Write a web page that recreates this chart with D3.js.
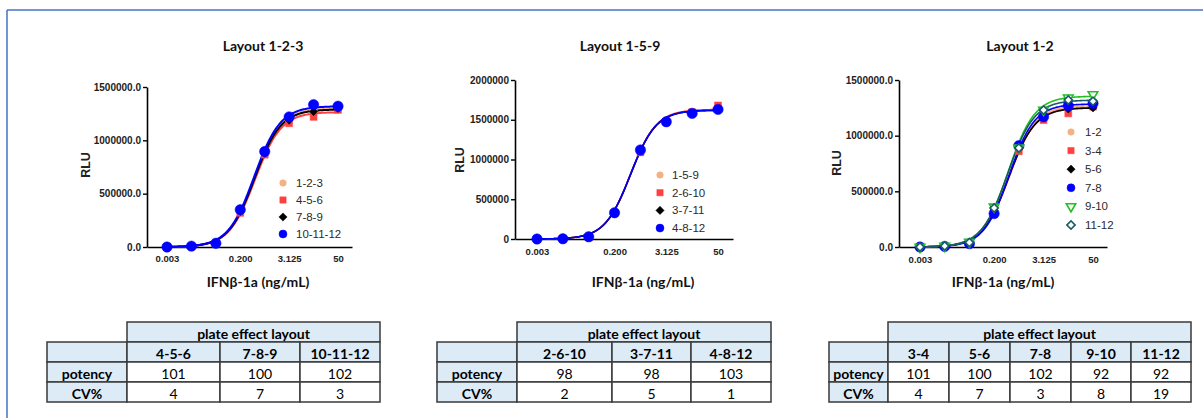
<!DOCTYPE html>
<html>
<head>
<meta charset="utf-8">
<script src="https://cdn.jsdelivr.net/npm/d3@7"></script>
<style>
  html, body { margin: 0; padding: 0; background: #fff; }
  svg { display: block; }
</style>
</head>
<body>
<script>
// ---------------- DATA ----------------
const conc = [0.00305, 0.0122, 0.0488, 0.195, 0.781, 3.125, 12.5, 50];
const xTickValues = [0.00305, 0.195, 3.125, 50];
const xTickLabels = ["0.003", "0.200", "3.125", "50"];

// Panel 1: Layout 1-2-3
const p1Names = ["1-2-3", "4-5-6", "7-8-9", "10-11-12"];
const p1_123 = [0, 4000, 28000, 330000, 880000, 1190000, 1280000, 1310000];
const p1_456 = [0, 5000, 30000, 320000, 865000, 1160000, 1220000, 1285000];
const p1_789 = [0, 5000, 30000, 335000, 880000, 1190000, 1270000, 1300000];
const p1_101112 = [0, 8000, 35000, 350000, 895000, 1220000, 1335000, 1320000];
// 4PL fit parameters [bottom, top, EC50, hill]
const p1Fits = [[0, 1300000, 0.44, 1.35], [0, 1265000, 0.45, 1.35], [0, 1290000, 0.44, 1.35], [0, 1320000, 0.43, 1.35]];
const p1YTicks = [0, 500000, 1000000, 1500000];

// Panel 2: Layout 1-5-9
const p2Names = ["1-5-9", "2-6-10", "3-7-11", "4-8-12"];
const p2_159 = [0, 2000, 25000, 320000, 1110000, 1480000, 1600000, 1640000];
const p2_2610 = [0, 2000, 20000, 330000, 1090000, 1470000, 1595000, 1680000];
const p2_3711 = [0, 2000, 25000, 325000, 1110000, 1475000, 1580000, 1630000];
const p2_4812 = [0, 3000, 28000, 330000, 1120000, 1475000, 1580000, 1630000];
const p2Fits = [[0, 1625000, 0.46, 1.45], [0, 1630000, 0.46, 1.45], [0, 1620000, 0.46, 1.45], [0, 1620000, 0.455, 1.45]];
const p2YTicks = [0, 500000, 1000000, 1500000, 2000000];

// Panel 3: Layout 1-2
const p3Names = ["1-2", "3-4", "5-6", "7-8", "9-10", "11-12"];
const p3_12 = [0, 5000, 40000, 330000, 880000, 1170000, 1250000, 1270000];
const p3_34 = [0, 5000, 35000, 320000, 860000, 1140000, 1200000, 1260000];
const p3_56 = [0, 5000, 35000, 330000, 880000, 1180000, 1240000, 1250000];
const p3_78 = [0, 5000, 30000, 300000, 910000, 1170000, 1270000, 1290000];
const p3_910 = [0, 8000, 45000, 360000, 890000, 1230000, 1340000, 1370000];
const p3_1112 = [0, 8000, 40000, 350000, 890000, 1230000, 1320000, 1310000];
const p3Fits = [[0, 1270000, 0.44, 1.35], [0, 1255000, 0.45, 1.35], [0, 1250000, 0.44, 1.35], [0, 1285000, 0.45, 1.4], [0, 1355000, 0.43, 1.35], [0, 1320000, 0.42, 1.35]];
const p3YTicks = [0, 500000, 1000000, 1500000];

// Tables
const tableTitle = "plate effect layout";
const rowLabels = ["potency", "CV%"];
const t1Cols = ["4-5-6", "7-8-9", "10-11-12"];
const t1Potency = [101, 100, 102];
const t1CV = [4, 7, 3];
const t2Cols = ["2-6-10", "3-7-11", "4-8-12"];
const t2Potency = [98, 98, 103];
const t2CV = [2, 5, 1];
const t3Cols = ["3-4", "5-6", "7-8", "9-10", "11-12"];
const t3Potency = [101, 100, 102, 92, 92];
const t3CV = [4, 7, 3, 8, 19];

// ---------------- STYLES ----------------
const styles = [
  {color: "#F4B183", shape: "circle", size: 42, lsize: 34, fill: true},
  {color: "#FF4040", shape: "square", size: 48, lsize: 40, fill: true},
  {color: "#000000", shape: "diamond", size: 34, lsize: 34, fill: true},
  {color: "#0000FF", shape: "circle", size: 85, lsize: 50, fill: true},
  {color: "#1FC01F", shape: "triangleDown", size: 40, lsize: 38, fill: false},
  {color: "#1A5A66", shape: "diamond", size: 34, lsize: 34, fill: false}
];

const W = 1203, H = 418;
const svg = d3.select("body").append("svg").attr("width", W).attr("height", H)
  .style("font-family", "'Liberation Sans', Arial, sans-serif");

// frame
svg.append("line").attr("x1", 7).attr("x2", W).attr("y1", 10).attr("y2", 10)
  .attr("stroke", "#4472C4").attr("stroke-width", 1.5);
svg.append("line").attr("x1", 7).attr("x2", 7).attr("y1", 10).attr("y2", H)
  .attr("stroke", "#4472C4").attr("stroke-width", 1.5);

function symbolPath(shape, size) {
  let t;
  if (shape === "circle") t = d3.symbolCircle;
  else if (shape === "square" || shape === "diamond") t = d3.symbolSquare;
  else t = d3.symbolTriangle;
  return d3.symbol().type(t).size(size)();
}
function symbolTransform(shape, x, y) {
  let r = 0;
  if (shape === "diamond") r = 45;
  if (shape === "triangleDown") r = 180;
  return `translate(${x},${y}) rotate(${r})`;
}

function drawPanel(cfg) {
  const g = svg.append("g");
  const xs0 = d3.scaleLog().domain([conc[0], conc[conc.length - 1]]).range([cfg.firstPt, cfg.lastPt]);
  const x = d3.scaleLog().domain([xs0.invert(cfg.x0), xs0.invert(cfg.x1)]).range([cfg.x0, cfg.x1]);
  const y = d3.scaleLinear().domain([0, cfg.yTicks[cfg.yTicks.length - 1]]).range([cfg.yBot, cfg.yTop]);

  // title
  g.append("text").attr("x", cfg.titleX).attr("y", 51).attr("text-anchor", "middle")
    .style("font-family", "Lato, 'Open Sans', sans-serif").style("font-weight", "bold")
    .style("font-size", "14px").attr("fill", "#111").text(cfg.title);

  // y axis
  const ya = g.append("g").attr("transform", `translate(${cfg.x0},0)`)
    .call(d3.axisLeft(y).tickValues(cfg.yTicks).tickFormat(d3.format(cfg.yFmt))
      .tickSizeOuter(0).tickSizeInner(4).tickPadding(2));
  ya.select(".domain").attr("stroke", "#000").attr("stroke-width", 1.6);
  ya.selectAll(".tick line").attr("stroke", "#000").attr("stroke-width", 1.4);
  ya.selectAll("text").style("font-family", "'Liberation Sans', Arial, sans-serif")
    .style("font-weight", "bold").style("font-size", cfg.yTickFont).attr("fill", "#222");

  // x axis
  const xa = g.append("g").attr("transform", `translate(0,${cfg.yBot})`)
    .call(d3.axisBottom(x).tickValues(xTickValues).tickFormat((d, i) => xTickLabels[i])
      .tickSizeOuter(0).tickSizeInner(0).tickPadding(cfg.xPad));
  xa.select(".domain").attr("stroke", "#000").attr("stroke-width", 1.6);
  xa.selectAll("text").style("font-family", "'Liberation Sans', Arial, sans-serif")
    .style("font-weight", "bold").style("font-size", "9.5px").attr("fill", "#222");

  // axis titles
  g.append("text").attr("transform", `translate(${cfg.yTitleX},${cfg.yTitleY}) rotate(-90)`)
    .attr("text-anchor", "middle").attr("dy", "0.35em")
    .style("font-weight", "bold").style("font-size", "12.5px").attr("fill", "#222").text("RLU");
  g.append("text").attr("x", cfg.xTitleX).attr("y", 287).attr("text-anchor", "middle")
    .style("font-family", "Lato, 'Open Sans', sans-serif").style("font-weight", "bold")
    .style("font-size", "14px").attr("fill", "#111").text("IFNβ-1a (ng/mL)");

  // fitted curves (4PL)
  const xs = d3.range(0, 201).map(i => Math.exp(Math.log(x.domain()[0]) + i / 200 * (Math.log(cfg.curveEnd) - Math.log(x.domain()[0]))));
  const line = d3.line().x(d => x(d[0])).y(d => y(d[1])).curve(d3.curveLinear);
  cfg.series.forEach((vals, si) => {
    const f = cfg.fits[si];
    const st = styles[si];
    const pts = xs.map(c => [c, f[0] + (f[1] - f[0]) / (1 + Math.pow(f[2] / c, f[3]))]);
    g.append("path").datum(pts.filter(p => x(p[0]) >= cfg.firstPt - 1))
      .attr("d", line).attr("fill", "none").attr("stroke", st.color)
      .attr("stroke-width", cfg.lineW);
  });
  // points
  cfg.series.forEach((vals, si) => {
    const st = styles[si];
    g.append("g").selectAll("path").data(vals).join("path")
      .attr("d", symbolPath(st.shape, st.size))
      .attr("transform", (d, i) => symbolTransform(st.shape, x(conc[i]), y(d)))
      .attr("fill", st.fill ? st.color : "#fff")
      .attr("stroke", st.color).attr("stroke-width", st.fill ? 0.5 : 1.6);
  });

  // legend
  const lg = g.append("g");
  cfg.names.forEach((n, i) => {
    const st = styles[i];
    const yy = cfg.legY0 + i * cfg.legDy;
    lg.append("path").attr("d", symbolPath(st.shape, st.lsize))
      .attr("transform", symbolTransform(st.shape, cfg.legMX, yy))
      .attr("fill", st.fill ? st.color : "#fff").attr("stroke", st.color)
      .attr("stroke-width", st.fill ? 0.5 : 1.6);
    lg.append("text").attr("x", cfg.legTX).attr("y", yy).attr("dy", "0.35em")
      .style("font-size", "11.5px").attr("fill", "#2a2a2a").text(n);
  });
}

drawPanel({
  title: "Layout 1-2-3", titleX: 263, x0: 147, x1: 352, yBot: 247, yTop: 87,
  firstPt: 167, lastPt: 338, curveEnd: 50, yTicks: p1YTicks, yFmt: ".1f", yTickFont: "10px", xPad: 8,
  yTitleX: 86, yTitleY: 165, xTitleX: 258, lineW: 2,
  series: [p1_123, p1_456, p1_789, p1_101112], fits: p1Fits, names: p1Names,
  legMX: 283, legTX: 296, legY0: 183, legDy: 17
});
drawPanel({
  title: "Layout 1-5-9", titleX: 620, x0: 515, x1: 733, yBot: 239, yTop: 80,
  firstPt: 537, lastPt: 718, curveEnd: 50, yTicks: p2YTicks, yFmt: "d", yTickFont: "10px", xPad: 9,
  yTitleX: 460, yTitleY: 160, xTitleX: 643, lineW: 1.6,
  series: [p2_159, p2_2610, p2_3711, p2_4812], fits: p2Fits, names: p2Names,
  legMX: 660, legTX: 672, legY0: 175, legDy: 17.7
});
drawPanel({
  title: "Layout 1-2", titleX: 1020, x0: 899, x1: 1107, yBot: 247, yTop: 80,
  firstPt: 920, lastPt: 1093, curveEnd: 50, yTicks: p3YTicks, yFmt: ".1f", yTickFont: "10px", xPad: 9,
  yTitleX: 837, yTitleY: 163, xTitleX: 1003, lineW: 1.6,
  series: [p3_12, p3_34, p3_56, p3_78, p3_910, p3_1112], fits: p3Fits, names: p3Names,
  legMX: 1071, legTX: 1085, legY0: 132, legDy: 18.6
});

// ---------------- TABLES ----------------
function drawTable(cfg) {
  const g = svg.append("g").style("font-family", "Lato, 'Open Sans', sans-serif");
  const rows = cfg.rows;
  const cx = cfg.cols;
  const fillBlue = "#DDEBF7", stroke = "#3a3a3a";
  const n = cx.length - 1;
  const cells = [];
  cells.push({x: cx[0], y: rows[0], w: cx[n] - cx[0], h: rows[1] - rows[0], fill: fillBlue, text: tableTitle, bold: true});
  cells.push({x: cfg.labelX, y: rows[1], w: cx[0] - cfg.labelX, h: rows[2] - rows[1], fill: fillBlue, text: "", bold: true});
  cfg.headers.forEach((h, i) => cells.push({x: cx[i], y: rows[1], w: cx[i + 1] - cx[i], h: rows[2] - rows[1], fill: fillBlue, text: h, bold: true}));
  [cfg.potency, cfg.cv].forEach((vals, r) => {
    cells.push({x: cfg.labelX, y: rows[2 + r], w: cx[0] - cfg.labelX, h: rows[3 + r] - rows[2 + r], fill: fillBlue, text: rowLabels[r], bold: true});
    vals.forEach((v, i) => cells.push({x: cx[i], y: rows[2 + r], w: cx[i + 1] - cx[i], h: rows[3 + r] - rows[2 + r], fill: "#fff", text: String(v), bold: false}));
  });
  g.selectAll("rect").data(cells).join("rect")
    .attr("x", d => d.x).attr("y", d => d.y).attr("width", d => d.w).attr("height", d => d.h)
    .attr("fill", d => d.fill).attr("stroke", stroke).attr("stroke-width", 1.5);
  g.selectAll("text").data(cells).join("text")
    .attr("x", d => d.x + d.w / 2).attr("y", d => d.y + d.h - 3).attr("text-anchor", "middle")
    .style("font-weight", d => d.bold ? "bold" : "normal").style("font-size", "14px")
    .attr("fill", "#000").text(d => d.text);
}
const tRows = [322, 342, 362, 382, 402];
drawTable({labelX: 47, cols: [127, 220, 300, 380], rows: tRows, headers: t1Cols, potency: t1Potency, cv: t1CV});
drawTable({labelX: 437, cols: [517, 612, 691, 771], rows: tRows, headers: t2Cols, potency: t2Potency, cv: t2CV});
drawTable({labelX: 829, cols: [888, 949, 1010, 1071, 1131, 1191], rows: tRows, headers: t3Cols, potency: t3Potency, cv: t3CV});
</script>
</body>
</html>
